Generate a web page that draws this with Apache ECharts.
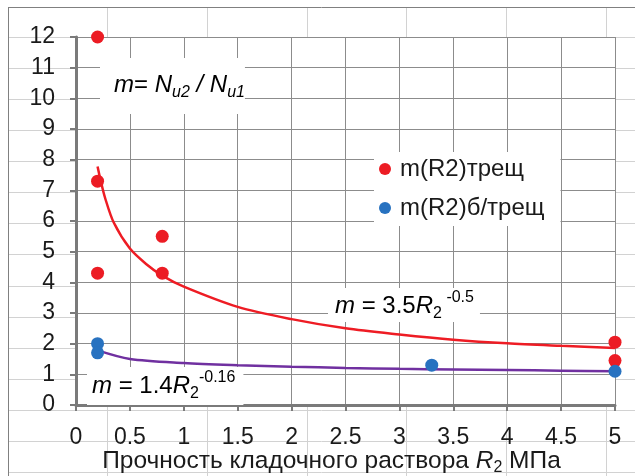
<!DOCTYPE html>
<html>
<head>
<meta charset="utf-8">
<script src="https://cdn.jsdelivr.net/npm/echarts@6/dist/echarts.min.js"></script>
<style>
html,body{margin:0;padding:0;background:#fff;}
#c{width:635px;height:476px;}
</style>
</head>
<body>
<div id="c"></div>
<script>
// Data
const redX = [0.2, 0.2, 0.2, 0.8, 0.8, 5, 5];
const redY = [12, 7.3, 4.3, 5.5, 4.3, 2.05, 1.45];
const blueX = [0.2, 0.2, 3.3, 5];
const blueY = [2.0, 1.7, 1.3, 1.1];
const redFitX = [0.2, 0.23, 0.27, 0.35, 0.5, 0.65, 0.8, 1, 1.5, 2, 2.5, 3, 3.5, 4, 4.5, 5];
const redFitY = [7.78, 7.3, 6.75, 5.95, 5.1, 4.6, 4.22, 3.86, 3.2, 2.8, 2.5, 2.3, 2.13, 2.01, 1.93, 1.86];
const purpleFitX = [0.2, 0.5, 1, 1.5, 2, 2.5, 3, 3.5, 4, 4.5, 5];
const purpleFitY = [1.78, 1.5, 1.37, 1.3, 1.25, 1.21, 1.18, 1.16, 1.14, 1.12, 1.1];
const seriesNames = ['m(R2)трещ', 'm(R2)б/трещ'];
const xTicks = [0, 0.5, 1, 1.5, 2, 2.5, 3, 3.5, 4, 4.5, 5];
const yTicks = [0, 1, 2, 3, 4, 5, 6, 7, 8, 9, 10, 11, 12];

const pairs = (xs, ys) => xs.map((x, i) => [x, ys[i]]);
const FONT = '"Liberation Sans", Arial, sans-serif';

// spreadsheet background (decoration)
const bg = [];
for (let k = 0; k < 15; k++) {
  const y = Math.round(37 + 31.07 * k) + 0.5;
  bg.push({type: 'line', z: -100, silent: true, shape: {x1: 8, y1: y, x2: 635, y2: y}, style: {stroke: '#d2d2d2', lineWidth: 1}});
}
[107, 207, 307, 406, 506, 606].forEach(x => {
  bg.push({type: 'line', z: -100, silent: true, shape: {x1: x + 0.5, y1: 7, x2: x + 0.5, y2: 476}, style: {stroke: '#d2d2d2', lineWidth: 1}});
});
bg.push({type: 'line', z: -99, silent: true, shape: {x1: 8, y1: 7.5, x2: 635, y2: 7.5}, style: {stroke: '#808080', lineWidth: 1}});
bg.push({type: 'line', z: -99, silent: true, shape: {x1: 8.5, y1: 7, x2: 8.5, y2: 476}, style: {stroke: '#808080', lineWidth: 1}});

const richBase = {
  n: {fontSize: 24, fontFamily: FONT, color: '#1a1a1a', lineHeight: 32},
  i: {fontSize: 24, fontFamily: FONT, fontStyle: 'italic', color: '#1a1a1a', lineHeight: 32},
  sub: {fontSize: 16, fontFamily: FONT, color: '#1a1a1a', verticalAlign: 'bottom', lineHeight: 16},
  isub: {fontSize: 16, fontFamily: FONT, fontStyle: 'italic', color: '#1a1a1a', verticalAlign: 'bottom', lineHeight: 16},
  sup: {fontSize: 16, fontFamily: FONT, color: '#1a1a1a', verticalAlign: 'top', lineHeight: 16}
};

const labels = [
  {type: 'text', z: 2, x: 100, y: 86, style: {
    text: '{i|m}{n|= }{i|N}{isub|u2}{i| / N}{isub|u1}', rich: richBase,
    textVerticalAlign: 'middle', backgroundColor: '#fff', padding: [11, 0, 13, 14]}},
  {type: 'text', z: 2, x: 328, y: 305, style: {
    text: '{i|m}{n| = 3.5}{i|R}{sub|2}{sup| -0.5}', rich: richBase,
    textVerticalAlign: 'middle', backgroundColor: '#fff', padding: [2, 6, 0, 7]}},
  {type: 'text', z: 2, x: 87, y: 386, style: {
    text: '{i|m}{n| = 1.4}{i|R}{sub|2}{sup|-0.16}', rich: richBase,
    textVerticalAlign: 'middle', backgroundColor: '#fff', padding: [3, 8, 3, 5]}}
];

const chart = echarts.init(document.getElementById('c'), null, {renderer: 'canvas'});
chart.setOption({
  animation: false,
  backgroundColor: 'transparent',
  textStyle: {fontFamily: FONT},
  grid: {left: 76, right: 20, top: 37, bottom: 71, show: true, backgroundColor: '#fff', borderWidth: 0,
    containLabel: false, outerBoundsMode: 'none'},
  legend: {
    data: seriesNames.map(n => ({name: n, icon: 'circle'})),
    orient: 'vertical', left: 374, top: 152,
    itemWidth: 12, itemHeight: 12, itemGap: 15,
    padding: [5, 16, 6, 5],
    backgroundColor: '#fff',
    textStyle: {fontSize: 24, color: '#1a1a1a', fontFamily: FONT, padding: [0, 0, 0, 4]}
  },
  xAxis: {
    type: 'value', min: xTicks[0], max: xTicks[xTicks.length - 1], interval: 0.5,
    name: '{a|Прочность кладочного раствора }{i|R}{s|2}{a| МПа}',
    nameLocation: 'middle', nameGap: 41, nameMoveOverlap: false,
    nameTextStyle: {padding: [0, 28, 0, 0], rich: {
      a: {fontSize: 24.5, color: '#1a1a1a', fontFamily: FONT, lineHeight: 30},
      i: {fontSize: 24.5, color: '#1a1a1a', fontFamily: FONT, fontStyle: 'italic', lineHeight: 30},
      s: {fontSize: 16, color: '#1a1a1a', fontFamily: FONT, verticalAlign: 'bottom', lineHeight: 16}
    }},
    axisLine: {show: true, onZero: false, lineStyle: {color: '#7a7a7a', width: 3}},
    axisTick: {show: true, inside: false, length: 6, lineStyle: {color: '#7a7a7a', width: 2}},
    axisLabel: {fontSize: 23, color: '#1a1a1a', margin: 21, fontFamily: FONT,
      formatter: v => String(v)},
    splitLine: {show: true, lineStyle: {color: '#8c8c8c', width: 1}}
  },
  yAxis: {
    type: 'value', min: yTicks[0], max: yTicks[yTicks.length - 1], interval: 1,
    axisLine: {show: true, onZero: false, lineStyle: {color: '#7a7a7a', width: 3}},
    axisTick: {show: true, inside: false, length: 6, lineStyle: {color: '#7a7a7a', width: 2}},
    axisLabel: {fontSize: 23, color: '#1a1a1a', margin: 21, fontFamily: FONT},
    splitLine: {show: true, lineStyle: {color: '#8c8c8c', width: 1}}
  },
  graphic: bg.concat(labels),
  series: [
    {name: 'fitRed', type: 'line', data: pairs(redFitX, redFitY), smooth: 0.3, showSymbol: false,
      lineStyle: {color: '#ee1c24', width: 2.5}, itemStyle: {color: '#ee1c24'}, z: 3},
    {name: 'fitPurple', type: 'line', data: pairs(purpleFitX, purpleFitY), smooth: 0.3, showSymbol: false,
      lineStyle: {color: '#7030a0', width: 2.5}, itemStyle: {color: '#7030a0'}, z: 3},
    {name: seriesNames[0], type: 'scatter', data: pairs(redX, redY), symbol: 'circle', symbolSize: 13,
      itemStyle: {color: '#ec1c24', opacity: 1}, z: 4},
    {name: seriesNames[1], type: 'scatter', data: pairs(blueX, blueY), symbol: 'circle', symbolSize: 13,
      itemStyle: {color: '#2872c0', opacity: 1}, z: 5}
  ]
});
</script>
</body>
</html>
